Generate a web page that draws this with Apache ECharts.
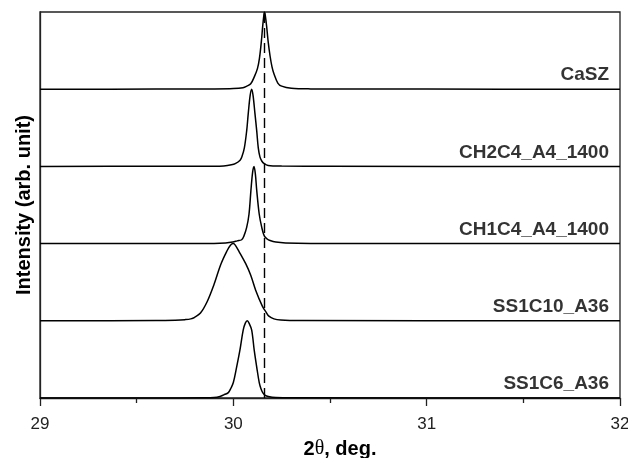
<!DOCTYPE html>
<html>
<head>
<meta charset="utf-8">
<script src="https://cdn.jsdelivr.net/npm/echarts@6/dist/echarts.min.js"></script>
<style>
html,body{margin:0;padding:0;background:#fff;}
#chart{width:628px;height:458px;}
</style>
</head>
<body>
<div id="chart"></div>
<script>
// Sample names (top to bottom) and their vertical stack offsets
const sampleNames = ['CaSZ', 'CH2C4_A4_1400', 'CH1C4_A4_1400', 'SS1C10_A36', 'SS1C6_A36'];
const stackOffsets = [4, 3, 2, 1, 0];

// 2θ (deg) and normalized intensity for each pattern
const caszX = [29.0, 29.6, 29.9, 30.0, 30.05, 30.07, 30.09, 30.11, 30.125, 30.135, 30.145, 30.152, 30.158, 30.161, 30.165, 30.172, 30.18, 30.19, 30.2, 30.21, 30.23, 30.25, 30.3, 30.4, 30.7, 31.0, 32.0];
const caszY = [0, 0.001, 0.003, 0.008, 0.02, 0.04, 0.07, 0.17, 0.27, 0.40, 0.62, 0.82, 0.96, 1.0, 0.96, 0.82, 0.62, 0.43, 0.29, 0.2, 0.08, 0.04, 0.012, 0.004, 0.002, 0.001, 0];

const ch2c4X = [29.0, 29.6, 29.9, 29.95, 29.99, 30.01, 30.035, 30.045, 30.057, 30.069, 30.077, 30.087, 30.095, 30.102, 30.112, 30.121, 30.129, 30.138, 30.147, 30.16, 30.18, 30.25, 30.5, 32.0];
const ch2c4Y = [0, 0.001, 0.002, 0.006, 0.02, 0.035, 0.08, 0.13, 0.24, 0.46, 0.68, 0.92, 1.0, 0.92, 0.68, 0.46, 0.24, 0.12, 0.07, 0.035, 0.012, 0.004, 0.001, 0];

const ch1c4X = [29.0, 29.6, 29.9, 29.96, 29.997, 30.02, 30.043, 30.055, 30.069, 30.081, 30.091, 30.1, 30.107, 30.114, 30.121, 30.134, 30.147, 30.16, 30.175, 30.19, 30.22, 30.27, 30.4, 32.0];
const ch1c4Y = [0, 0.001, 0.002, 0.008, 0.02, 0.035, 0.05, 0.1, 0.21, 0.38, 0.69, 0.93, 1.0, 0.9, 0.69, 0.38, 0.21, 0.1, 0.06, 0.04, 0.02, 0.008, 0.002, 0];

const ss1c10X = [29.0, 29.6, 29.7, 29.75, 29.78, 29.8, 29.83, 29.865, 29.9, 29.935, 29.966, 29.985, 30.0, 30.01, 30.029, 30.064, 30.09, 30.115, 30.15, 30.17, 30.184, 30.21, 30.245, 30.35, 32.0];
const ss1c10Y = [0, 0.003, 0.008, 0.015, 0.025, 0.045, 0.10, 0.25, 0.47, 0.73, 0.90, 0.98, 1.0, 0.98, 0.90, 0.74, 0.59, 0.40, 0.19, 0.11, 0.06, 0.025, 0.01, 0.003, 0];

const ss1c6X = [29.0, 29.6, 29.85, 29.9, 29.931, 29.95, 29.974, 29.988, 30.0, 30.017, 30.034, 30.051, 30.062, 30.072, 30.083, 30.095, 30.108, 30.121, 30.134, 30.143, 30.152, 30.165, 30.181, 30.22, 30.3, 32.0];
const ss1c6Y = [0, 0.001, 0.002, 0.006, 0.02, 0.04, 0.07, 0.13, 0.20, 0.40, 0.62, 0.88, 0.97, 1.0, 0.96, 0.88, 0.62, 0.40, 0.20, 0.12, 0.07, 0.035, 0.02, 0.007, 0.002, 0];

// reference peak position (dashed line)
const refPeak = 30.16;

// x-axis ticks
const xMin = 29, xMax = 32, xStep = 1;

const patternsX = [caszX, ch2c4X, ch1c4X, ss1c10X, ss1c6X];
const patternsY = [caszY, ch2c4Y, ch1c4Y, ss1c10Y, ss1c6Y];

const chart = echarts.init(document.getElementById('chart'), null, {renderer: 'canvas'});
const FONT = '"Liberation Sans", Arial, Helvetica, sans-serif';

const series = patternsX.map((xs, i) => ({
  type: 'line',
  name: sampleNames[i],
  data: xs.map((x, j) => [x, patternsY[i][j] + stackOffsets[i]]),
  showSymbol: false,
  symbol: 'none',
  smooth: 0.35,
  lineStyle: {color: '#000', width: 1.5},
  silent: true,
  z: 3
}));

// labels at the right end of each baseline
series.push({
  type: 'scatter',
  symbolSize: 0,
  silent: true,
  data: sampleNames.map((n, i) => ({value: [xMax, stackOffsets[i]], name: n})),
  label: {
    show: true,
    position: 'left',
    distance: 11,
    offset: [0, -14],
    formatter: p => p.name,
    fontFamily: FONT,
    fontWeight: 'bold',
    fontSize: 19,
    color: '#000'
  },
  z: 4
});

// dashed reference line
series.push({
  type: 'line',
  data: [],
  silent: true,
  markLine: {
    silent: true,
    symbol: ['none', 'none'],
    label: {show: false},
    lineStyle: {color: '#000', width: 1.4, type: [10, 5]},
    data: [[{coord: [refPeak, 0]}, {coord: [refPeak, 5]}]]
  }
});

chart.setOption({
  animation: false,
  backgroundColor: '#fff',
  grid: {left: 40, right: 8, top: 12, bottom: 60, outerBoundsMode: 'none', containLabel: false, show: true, borderColor: '#222', borderWidth: 1.3, backgroundColor: 'transparent'},
  xAxis: {
    type: 'value',
    min: xMin, max: xMax, interval: xStep,
    axisLine: {show: true, onZero: false, lineStyle: {color: '#222', width: 1.3}},
    axisTick: {show: true, inside: false, length: 8, lineStyle: {color: '#222', width: 1.3}},
    minorTick: {show: true, splitNumber: 2, length: 5, lineStyle: {color: '#222', width: 1.3}},
    splitLine: {show: false},
    axisLabel: {fontFamily: FONT, fontSize: 17, color: '#222', margin: 18},
    name: '{b|2}{t|θ}{b|, deg.}',
    nameLocation: 'middle',
    nameGap: 41,
    nameTextStyle: {
      padding: [0, 0, 0, 20],
      rich: {
        b: {fontFamily: FONT, fontWeight: 'bold', fontSize: 20, color: '#000'},
        t: {fontFamily: '"Liberation Serif", "Times New Roman", serif', fontSize: 20, color: '#000'}
      }
    }
  },
  yAxis: {
    type: 'value',
    min: 0, max: 5,
    axisLine: {show: true, lineStyle: {color: '#222', width: 1.3}},
    axisTick: {show: false},
    axisLabel: {show: false},
    splitLine: {show: false},
    name: 'Intensity (arb. unit)',
    nameLocation: 'middle',
    nameGap: 6,
    nameTextStyle: {fontFamily: FONT, fontWeight: 'bold', fontSize: 20, color: '#000'}
  },
  series: series
});
</script>
</body>
</html>
